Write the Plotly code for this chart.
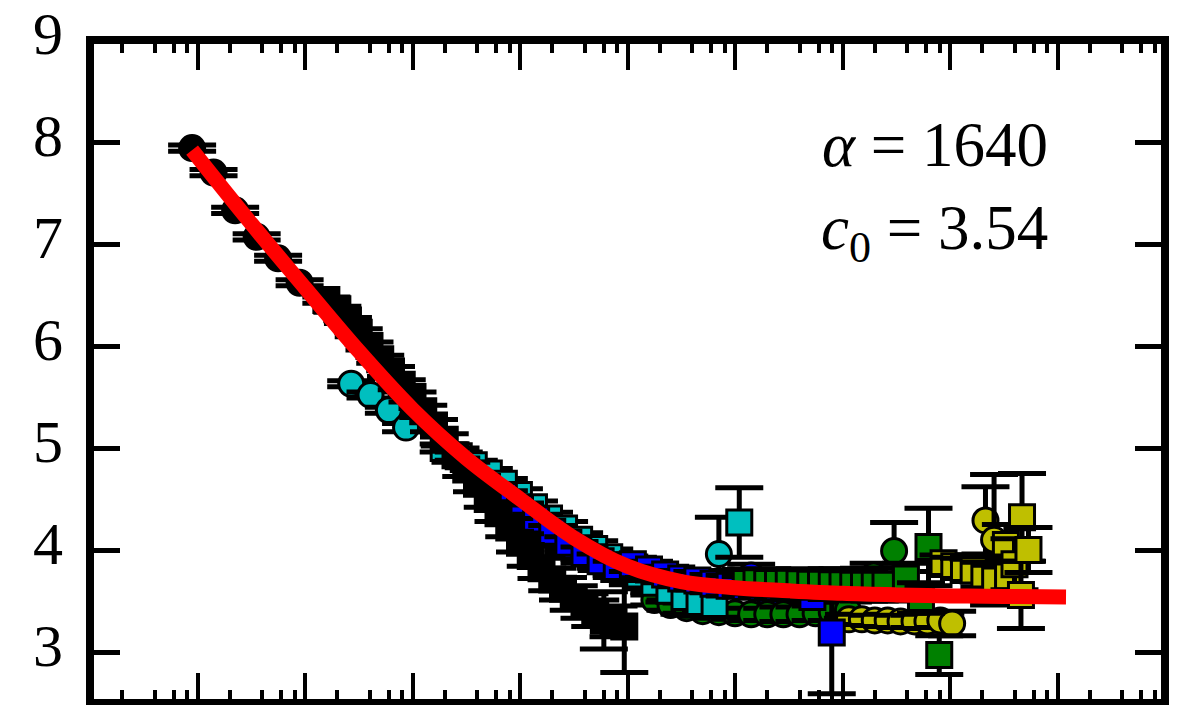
import plotly.graph_objects as go

# ---------------- data ----------------
# black
bk_circ_x = [8.91, 14.1, 22.4, 35.5, 56.2, 89.1]
bk_circ_y = [7.94, 7.70, 7.33, 7.07, 6.86, 6.62]
bk_circ_e = [0.03, 0.03, 0.03, 0.03, 0.03, 0.03]

bk_sq_x = [158, 200, 251, 316, 398, 501, 631, 794, 1000, 1259, 1585, 1995, 2512, 3162, 3981,
           5012, 6310, 7943, 10000, 12590, 15850, 19950, 25120, 31620, 39810, 50120, 60260, 74130, 93330]
bk_sq_y = [6.45, 6.36, 6.25, 6.13, 6.00, 5.87, 5.75, 5.62, 5.50, 5.36, 5.22, 5.08, 4.93, 4.79, 4.65,
           4.50, 4.36, 4.22, 4.07, 3.94, 3.82, 3.71, 3.62, 3.53, 3.45, 3.38, 3.31, 3.30, 3.25]
bk_sq_e = [0.03, 0.03, 0.03, 0.04, 0.04, 0.04, 0.05, 0.05, 0.05, 0.06, 0.06, 0.06, 0.07, 0.07, 0.08,
           0.08, 0.08, 0.09, 0.09, 0.10, 0.10, 0.11, 0.11, 0.12, 0.12, 0.13, 0.28, 0.15, 0.45]

# cyan
cy_circ_x = [269, 407, 603, 871, 708000]
cy_circ_y = [5.63, 5.52, 5.37, 5.20, 3.96]
cy_circ_e = [0.03, 0.03, 0.03, 0.04, 0.36]

cy_sq_x = [1950, 2692, 3715, 5129, 7079, 9772, 13490, 18620, 25700, 35480, 48980, 67610, 93330,
           128800, 177800, 245500, 338800, 467700, 645700, 1096000]
cy_sq_y = [5.00, 4.92, 4.83, 4.75, 4.65, 4.54, 4.42, 4.31, 4.21, 4.10, 4.01, 3.93, 3.85,
           3.76, 3.68, 3.60, 3.54, 3.49, 3.47, 4.27]
cy_sq_e = [0.04, 0.04, 0.05, 0.05, 0.05, 0.06, 0.06, 0.06, 0.07, 0.07, 0.08, 0.08, 0.09,
           0.09, 0.10, 0.11, 0.17, 0.12, 0.13, 0.34]

# blue
bl_circ_x = [19950, 28180, 39810, 57540, 79430, 112200, 158500, 223900, 316200, 446700, 631000,
             933300, 1413000, 1995000, 2818000, 3981000]
bl_circ_y = [4.15, 4.03, 3.94, 3.87, 3.80, 3.74, 3.70, 3.66, 3.64, 3.63, 3.66,
             3.70, 3.75, 3.58, 3.50, 3.47]
bl_circ_e = [0.06, 0.06, 0.07, 0.07, 0.07, 0.08, 0.08, 0.08, 0.09, 0.09, 0.10,
             0.10, 0.11, 0.11, 0.12, 0.12]

bl_sq_x = [7079, 10000, 14130, 19950, 28180, 39810, 56230, 79430, 112200, 158500, 223900, 316200,
           446700, 631000, 891300, 1259000, 1778000, 2512000, 3548000, 5248000, 7943000]
bl_sq_y = [4.53, 4.41, 4.30, 4.18, 4.07, 3.97, 3.89, 3.82, 3.86, 3.81, 3.76, 3.72,
           3.70, 3.67, 3.65, 3.64, 3.635, 3.63, 3.62, 3.54, 3.19]
bl_sq_e = [0.05, 0.05, 0.05, 0.06, 0.06, 0.06, 0.07, 0.07, 0.07, 0.08, 0.08, 0.08,
           0.09, 0.09, 0.10, 0.10, 0.10, 0.11, 0.11, 0.05, 0.60]

# green
gr_circ_x = [177800, 251200, 354800, 501200, 707900, 1000000, 1413000, 1995000, 2818000,
             3981000, 5623000, 7943000, 11220000, 19500000, 30200000]
gr_circ_y = [3.51, 3.46, 3.43, 3.40, 3.39, 3.38, 3.37, 3.37, 3.37, 3.37, 3.38, 3.39, 3.41, 3.75, 3.99]
gr_circ_e = [0.05, 0.05, 0.05, 0.05, 0.06, 0.06, 0.06, 0.06, 0.07, 0.07, 0.07, 0.08, 0.08, 0.12, 0.28]

gr_sq_x = [1259000, 1585000, 1995000, 2512000, 3162000, 3981000, 5012000, 6310000, 7943000,
           10000000, 12590000, 15850000, 19950000, 25120000, 38900000, 53700000, 63100000, 79430000]
gr_sq_y = [3.69, 3.69, 3.685, 3.68, 3.68, 3.675, 3.67, 3.67, 3.665,
           3.665, 3.66, 3.66, 3.66, 3.66, 3.72, 3.53, 4.03, 2.97]
gr_sq_e = [0.12, 0.12, 0.13, 0.13, 0.13, 0.14, 0.14, 0.14, 0.15,
           0.15, 0.15, 0.16, 0.16, 0.16, 0.15, 0.15, 0.38, 0.19]

# yellow
ye_circ_x = [11480000, 15140000, 19950000, 26300000, 34670000, 46770000, 61660000, 81280000,
             104700000, 213800000, 257000000]
ye_circ_y = [3.32, 3.32, 3.31, 3.31, 3.30, 3.30, 3.30, 3.31, 3.28, 4.29, 4.10]
ye_circ_e = [0.05, 0.05, 0.05, 0.06, 0.06, 0.06, 0.07, 0.07, 0.12, 0.33, 0.64]

ye_sq_x = [87100000, 109600000, 134900000, 166000000, 208900000, 263000000, 331100000,
           346700000, 398100000, 457100000, 467700000, 537000000]
ye_sq_y = [3.87, 3.84, 3.82, 3.80, 3.76, 3.70, 4.05, 3.74, 3.86, 3.56, 4.32, 4.00]
ye_sq_e = [0.08, 0.09, 0.10, 0.11, 0.12, 0.15, 0.20, 0.20, 0.25, 0.33, 0.43, 0.22]

# fitted curve (red)
fit_x = [8.91, 31.6, 100, 316, 1000, 3162, 10000, 31620, 100000, 316200, 1e6, 3.162e6,
         1e7, 3.162e7, 1e8, 3.162e8, 1.2e9]
fit_y = [7.92, 7.20, 6.57, 5.95, 5.38, 4.90, 4.50, 4.12, 3.84, 3.69, 3.63, 3.60,
         3.575, 3.56, 3.55, 3.545, 3.54]

y_ticks = [3, 4, 5, 6, 7, 8, 9]
x_major = [10 ** k for k in range(1, 10)]
x_minor = [m * 10 ** k for k in range(0, 10) for m in (2, 4, 6, 8)]

alpha_label = "<i>α</i> = 1640"
c0_label = "<i>c</i><sub>0</sub> = 3.54"

# ---------------- figure ----------------
colors = {"k": "#000000", "c": "#00bfbf", "b": "#0000ff", "g": "#008000", "y": "#bfbf00"}

fig = go.Figure()


def add_series(xs, ys, es, col, symbol):
    # each point is its own trace so later error bars overlap earlier markers
    for x, y, e in zip(xs, ys, es):
        fig.add_trace(go.Scatter(
            x=[x], y=[y], mode="markers",
            marker=dict(symbol=symbol, size=25, color=col, line=dict(color="black", width=3)),
            error_y=dict(type="data", array=[e], visible=True, color="black", thickness=5, width=24),
            showlegend=False, hoverinfo="skip"))


series_circ = [(bk_circ_x, bk_circ_y, bk_circ_e, colors["k"]),
               (cy_circ_x, cy_circ_y, cy_circ_e, colors["c"]),
               (bl_circ_x, bl_circ_y, bl_circ_e, colors["b"]),
               (gr_circ_x, gr_circ_y, gr_circ_e, colors["g"]),
               (ye_circ_x, ye_circ_y, ye_circ_e, colors["y"])]
series_sq = [(cy_sq_x, cy_sq_y, cy_sq_e, colors["c"]),
             (bl_sq_x, bl_sq_y, bl_sq_e, colors["b"]),
             (bk_sq_x, bk_sq_y, bk_sq_e, colors["k"]),
             (gr_sq_x, gr_sq_y, gr_sq_e, colors["g"]),
             (ye_sq_x, ye_sq_y, ye_sq_e, colors["y"])]

for xs, ys, es, c in series_circ:
    add_series(xs, ys, es, c, "circle")
for xs, ys, es, c in series_sq:
    add_series(xs, ys, es, c, "square")

fig.add_trace(go.Scatter(x=fit_x, y=fit_y, mode="lines",
                         line=dict(color="#ff0000", width=15, shape="spline", smoothing=1.0),
                         showlegend=False, hoverinfo="skip"))

font_family = "Liberation Serif"

fig.update_layout(
    width=1187, height=705,
    margin=dict(l=90, r=22, t=40, b=2),
    paper_bgcolor="white", plot_bgcolor="white",
    showlegend=False,
    xaxis=dict(type="log", range=[0, 10], showgrid=False, zeroline=False,
               showline=False, linewidth=7, mirror="ticks",
               ticks="inside", ticklen=30, tickwidth=4, tickcolor="black",
               tickmode="array", tickvals=x_major, showticklabels=False,
               minor=dict(tickmode="array", tickvals=x_minor, ticks="inside",
                          ticklen=13, tickwidth=4, tickcolor="black", showgrid=False)),
    yaxis=dict(range=[2.5, 9], showgrid=False, zeroline=False,
               showline=False, linewidth=7, mirror="ticks",
               ticks="inside", ticklen=30, tickwidth=5, tickcolor="black",
               tickmode="array", tickvals=y_ticks, ticktext=[str(v) for v in y_ticks],
               tickfont=dict(family=font_family, size=60, color="black"),
               ticklabelstandoff=26, ticklabelshift=-7, ticklabeloverflow="allow"),
    shapes=[dict(type="rect", xref="paper", yref="paper", x0=0, x1=1, y0=0, y1=1,
                 line=dict(color="black", width=8), fillcolor="rgba(0,0,0,0)", layer="above")],
    annotations=[
        dict(text=alpha_label, xref="paper", yref="paper", x=0.893, y=0.842,
             xanchor="right", yanchor="middle", showarrow=False,
             font=dict(family=font_family, size=63, color="black")),
        dict(text=c0_label, xref="paper", yref="paper", x=0.893, y=0.709,
             xanchor="right", yanchor="middle", showarrow=False,
             font=dict(family=font_family, size=63, color="black")),
    ],
)

fig.write_html("out.html")
